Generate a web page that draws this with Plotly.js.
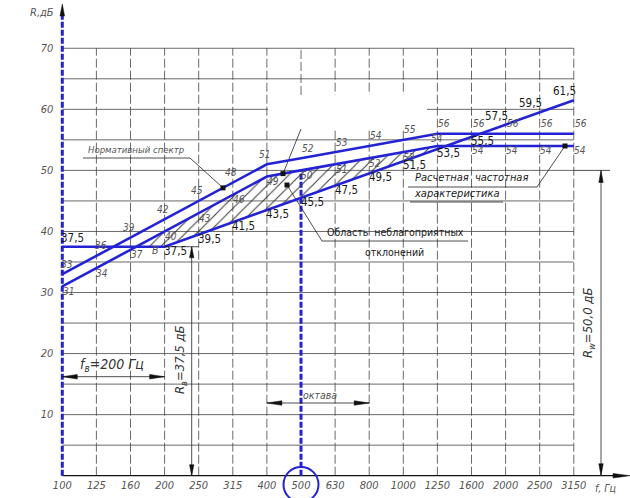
<!DOCTYPE html>
<html><head><meta charset="utf-8">
<script src="https://cdn.plot.ly/plotly-3.0.1.min.js"></script>
<style>html,body{margin:0;padding:0;background:#fff}#chart{width:630px;height:498px}</style>
</head><body><div id="chart"></div>
<script>
// ---- data ----
const freqLabels = ['100','125','160','200','250','315','400','500','630','800','1000','1250','1600','2000','2500','3150'];
const normSpectrum = [33,36,39,42,45,48,51,52,53,54,55,56,56,56,56,56];
const shiftedSpectrum = [31,34,37,40,43,46,49,50,51,52,53,54,54,54,54,54];
const calcSpectrum = [37.5,37.5,37.5,37.5,39.5,41.5,43.5,45.5,47.5,49.5,51.5,53.5,55.5,57.5,59.5,61.5];
const yTickVals = [10,20,30,40,50,60,70];
const gridStep = 5;
const fBLabel = '200', RB = 37.5, RW = 50.0;
const octaveFrom = '400', octaveTo = '800', markedFreq = '500';

// ---- geometry helpers ----
const W=630, H=498, X0=62.3, SX=34.1, Y0=475.7, SY=6.106;
const px2x = p => (p-X0)/SX, px2y = p => (Y0-p)/SY;
const idx = freqLabels.map((_,i)=>i);
const nIdx = idx.length-1;
const interp = (arr,x)=>{const i=Math.max(0,Math.min(Math.floor(x),arr.length-2)); const t=x-i; return arr[i]+(arr[i+1]-arr[i])*t;};
const fmt = v => String(v).replace('.',',');

const FONT = "'Liberation Sans Narrow','DejaVu Sans Condensed','Liberation Sans',sans-serif";
const BLUE = '#2323d4', INK='#1a1a1a', GRAY='#555';

const shapes=[];
const seg=(x0,y0,x1,y1,o={})=>shapes.push({type:'line',xref:'x',yref:'y',x0,y0,x1,y1,layer:o.layer||'below',
  line:{color:o.color||'#333',width:o.width||0.8,dash:o.dash||'solid'}});
const head=(x,y,dir,len=12,hw=2.2)=>{
  const lx=len/SX, ly=len/SY, wx=hw/SX, wy=hw/SY; let p;
  if(dir==='up') p=`M${x},${y} L${x-wx},${y-ly} L${x+wx},${y-ly} Z`;
  if(dir==='down') p=`M${x},${y} L${x-wx},${y+ly} L${x+wx},${y+ly} Z`;
  if(dir==='left') p=`M${x},${y} L${x+lx},${y-wy} L${x+lx},${y+wy} Z`;
  if(dir==='right') p=`M${x},${y} L${x-lx},${y-wy} L${x-lx},${y+wy} Z`;
  shapes.push({type:'path',path:p,xref:'x',yref:'y',fillcolor:'#111',line:{color:'#111',width:0.5},layer:'above'});
};

// grid
const yTop = yTickVals[yTickVals.length-1];
const iMark = freqLabels.indexOf(markedFreq);
for(let v=gridStep; v<=yTop; v+=gridStep) seg(0,v,nIdx,v,{color:'#444',width:0.8});
for(let i=1;i<=nIdx;i++){ const y0=(i===iMark)?px2y(95):0; seg(i,y0,i,yTop,{color:'#444',width:0.8,dash:'9px,3px'}); }
// erased block in the upper grid
shapes.push({type:'rect',xref:'x',yref:'y',x0:px2x(268),x1:px2x(427),y0:px2y(128),y1:px2y(95),fillcolor:'#fff',line:{width:0},layer:'below'});

// axes
seg(0,0,px2x(616),0,{color:'#111',width:1.2});
head(px2x(630),0,'right',17,2.3);
seg(0,0,0,px2y(14),{color:BLUE,width:3,dash:'6px,2px'});
head(0,px2y(4),'up',12,2.3);
// marked frequency
seg(iMark,0,iMark,shiftedSpectrum[iMark],{color:BLUE,width:3,dash:'6px,2px'});
shapes.push({type:'circle',xref:'x',yref:'y',x0:iMark-17.5/SX,x1:iMark+17.5/SX,y0:px2y(502),y1:px2y(467),line:{color:BLUE,width:2},layer:'above'});

// dimension R_b
const iB = freqLabels.indexOf(fBLabel);
const xRB = px2x(191.7);
seg(iB,RB,iB+1,RB,{color:'#222',width:0.8});
seg(xRB,RB,xRB,0,{color:'#222',width:0.8});
head(xRB,RB,'up',11,2.2); head(xRB,0,'down',11,2.2);
// dimension f_b
const yFB = px2y(376.7);
seg(0,yFB,iB,yFB,{color:'#222',width:0.8});
head(0,yFB,'left',15,2.3); head(iB,yFB,'right',15,2.3);
// dimension R_w
const xRW = px2x(601);
seg(nIdx,RW,px2x(610),RW,{color:'#222',width:0.8});
seg(xRW,RW,xRW,0,{color:'#222',width:0.8});
head(xRW,RW,'up',12,2.2); head(xRW,0,'down',12,2.2);
// octave
const iO1=freqLabels.indexOf(octaveFrom), iO2=freqLabels.indexOf(octaveTo);
const yOct = px2y(403);
seg(iO1,yOct,iO2,yOct,{color:'#222',width:0.8});
head(iO1,yOct,'left',15,2.3); head(iO2,yOct,'right',15,2.3);

// leaders
const dots={x:[],y:[]};
const dN=[px2x(223)]; dN.push(interp(normSpectrum,dN[0]));
seg(px2x(83),px2y(158),px2x(190),px2y(158),{color:'#222'});
seg(px2x(190),px2y(158),dN[0],dN[1],{color:'#222'});
dots.x.push(dN[0]); dots.y.push(dN[1]);
const dS=[px2x(283)]; dS.push(interp(shiftedSpectrum,dS[0]));
seg(iMark,px2y(129),dS[0],dS[1],{color:'#222'});
dots.x.push(dS[0]); dots.y.push(dS[1]);
const dA=[px2x(287),px2y(185)];
seg(dA[0],dA[1],px2x(322),px2y(241),{color:'#222'});
seg(px2x(322),px2y(241),px2x(468),px2y(241),{color:'#222'});
dots.x.push(dA[0]); dots.y.push(dA[1]);
const dC=[px2x(565)]; dC.push(interp(shiftedSpectrum,dC[0]));
seg(dC[0],dC[1],px2x(537),px2y(187),{color:'#222'});
seg(px2x(537),px2y(187),px2x(408),px2y(187),{color:'#222'});
seg(px2x(410),px2y(202),px2x(503),px2y(202),{color:'#222'});
dots.x.push(dC[0]); dots.y.push(dC[1]);

// hatched region: shifted spectrum above calculated characteristic
const d = idx.map(i=>shiftedSpectrum[i]-calcSpectrum[i]);
let hx=[], hy=[], lowX=[], lowY=[];
for(let i=0;i<nIdx;i++){
  if(d[i]>0){ hx.push(i); hy.push(shiftedSpectrum[i]); lowX.unshift(i); lowY.unshift(calcSpectrum[i]); }
  if((d[i]>0)!==(d[i+1]>0)){
    const t=d[i]/(d[i]-d[i+1]); const xc=i+t; const yc=interp(shiftedSpectrum,xc);
    hx.push(xc); hy.push(yc);
    if(d[i]>0) break;
  }
}
const hatchX = hx.concat(lowX), hatchY = hy.concat(lowY);
hatchX.push(hatchX[0]); hatchY.push(hatchY[0]);

const traces=[
  {x:hatchX,y:hatchY,mode:'lines',line:{width:0},fill:'toself',fillcolor:'rgba(0,0,0,0)',
   fillpattern:{shape:'/',size:8,solidity:0.12,fgcolor:'#333',bgcolor:'rgba(0,0,0,0)'},hoverinfo:'skip'},
  {x:idx,y:normSpectrum,mode:'lines',line:{color:BLUE,width:2.6}},
  {x:idx,y:shiftedSpectrum,mode:'lines',line:{color:BLUE,width:2.6}},
  {x:idx,y:calcSpectrum,mode:'lines',line:{color:BLUE,width:2.6}},
  {x:dots.x,y:dots.y,mode:'markers',marker:{symbol:'square',size:5,color:'#111'}}
];

// annotations
const ann=[];
const lab=(x,y,text,o={})=>{const f=Object.assign({family:FONT,size:11,color:GRAY,style:'italic'},o.font||{}); delete o.font;
  ann.push(Object.assign({x,y,xref:'x',yref:'y',text,showarrow:false,xanchor:'center',yanchor:'middle',font:f},o));};

idx.forEach(i=>{
  lab(i,normSpectrum[i],fmt(normSpectrum[i]),{xshift: i<=1?5:(i<iMark?-2:7), yshift:10, font:{size:10}});
  const above = i>0 && shiftedSpectrum[i]===shiftedSpectrum[i+1] && shiftedSpectrum[i-1]!==shiftedSpectrum[i];
  lab(i,shiftedSpectrum[i],fmt(shiftedSpectrum[i]),{xshift: above?0:6, yshift: above?7:-5, font:{size:10}});
  const show = i===0 || i===nIdx || calcSpectrum[i+1]!==calcSpectrum[i];
  if(show){
    const hi = calcSpectrum[i]>normSpectrum[i];
    lab(i,calcSpectrum[i],fmt(calcSpectrum[i]),{xshift: hi?(i===0?10:-9):11, yshift: hi?9:-4,
      font:{size:11.5,color:INK,style:'normal'}});
  }
});
lab(iB,calcSpectrum[iB],'В',{xshift:-10,yshift:-3,font:{size:10.5}});

lab(px2x(42),px2y(12),'R,дБ',{font:{size:11}});
lab(px2x(605),px2y(488),'f, Гц',{font:{size:10.5}});
lab(px2x(136),px2y(158),'Нормативный спектр',{yanchor:'bottom',yshift:1,font:{size:9.5}});
lab(px2x(395),px2y(241),'Область\u00a0\u00a0неблагоприятных',{yanchor:'bottom',yshift:1,font:{size:10.5,color:INK,style:'normal'}});
lab(px2x(394),px2y(252),'отклонений',{font:{size:10.5,color:INK,style:'normal'}});
lab(px2x(471),px2y(187),'Расчетная\u00a0\u00a0частотная',{yanchor:'bottom',yshift:1,font:{size:11,color:INK}});
lab(px2x(457),px2y(202),'характеристика',{yanchor:'bottom',yshift:0,font:{size:11,color:INK}});
lab(px2x(112),px2y(365),'f<sub>в</sub>=200 Гц',{font:{size:14,color:'#333'}});
lab(px2x(180),px2y(360),'R<sub>в</sub>=37,5 дБ',{textangle:-90,font:{size:13,color:'#333'}});
lab(px2x(588),px2y(323),'R<sub>w</sub>=50,0 дБ',{textangle:-90,font:{size:13,color:'#333'}});
lab(iMark,px2y(395),'октава',{xanchor:'left',xshift:0,font:{size:10.5}});

const tickFont={family:FONT,size:11,color:GRAY,style:'italic'};
const layout={
  width:W,height:H,margin:{l:0,r:0,t:0,b:0},paper_bgcolor:'#fff',plot_bgcolor:'#fff',showlegend:false,
  xaxis:{range:[px2x(0),px2x(W)],anchor:'free',position:(H-Y0)/H,showgrid:false,zeroline:false,showline:false,
    tickmode:'array',tickvals:idx,ticktext:freqLabels,ticks:'',tickfont:tickFont,ticklabelstandoff:1,fixedrange:true},
  yaxis:{range:[px2y(H),px2y(0)],anchor:'free',position:X0/W,showgrid:false,zeroline:false,showline:false,
    tickmode:'array',tickvals:yTickVals,ticks:'',tickfont:tickFont,ticklabelstandoff:9,fixedrange:true},
  shapes:shapes,annotations:ann
};
Plotly.newPlot('chart',traces,layout,{displayModeBar:false,staticPlot:true});
</script></body></html>
